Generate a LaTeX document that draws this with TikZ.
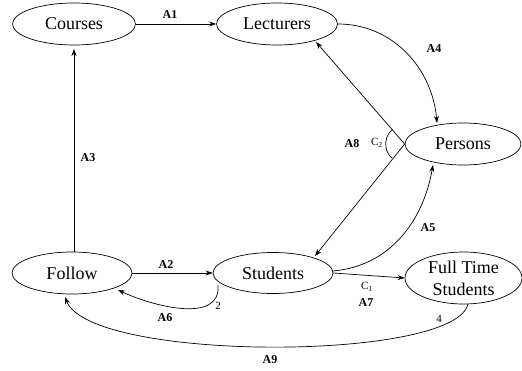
\documentclass[tikz,border=0pt]{standalone}
\usepackage{fontspec}
\setmainfont{Liberation Serif}
\usetikzlibrary{shapes.geometric,arrows.meta}
\begin{document}
\begin{tikzpicture}[x=1pt,y=1pt,
  ent/.style={draw,ellipse,line width=0.7pt,inner sep=0pt,font=\fontsize{18}{22}\selectfont,align=center},
  conn/.style={line width=0.7pt,-{Stealth[length=7pt,width=5pt]}},
  plain/.style={line width=0.7pt},
  lab/.style={font=\fontsize{12}{14}\selectfont\bfseries},
  card/.style={font=\fontsize{11}{13}\selectfont}]
\useasboundingbox (0,0) rectangle (522,370);
\node[ent,minimum width=123pt,minimum height=42pt] (courses) at (74,346) {Courses};
\node[ent,minimum width=121pt,minimum height=42pt] (lect) at (277,346) {Lecturers};
\node[ent,minimum width=116pt,minimum height=42pt] (pers) at (463,226) {Persons};
\node[ent,minimum width=120pt,minimum height=42pt] (follow) at (72,97) {Follow};
\node[ent,minimum width=120pt,minimum height=41pt] (stud) at (273,97) {Students};
\node[ent,minimum width=117pt,minimum height=52pt] (fts) at (463.5,92) {Full Time\\Students};
\coordinate (c3s) at (74,97);
\coordinate (c3e) at (74,321);
\coordinate (lectin) at (316,328);
\coordinate (studin) at (315,114);
\coordinate (a4e) at (437,247);
\coordinate (a5s) at (333,99);
\coordinate (a5e) at (433,205);
\coordinate (a6s) at (218,85);
\coordinate (a6e) at (118,80);
\coordinate (a9s) at (468,66);
\coordinate (a9e) at (65,73);
% A1
\draw[conn] (courses.east) -- (lect.west);
\node[lab] (lA1) at (170,355) {A1};
% A3
\draw[conn] (c3s |- follow.north) -- (c3e);
\node[lab] (lA3) at (88,212) {A3};
% A4
\draw[conn] (lect.east) to[out=0,in=95] (a4e);
\node[lab] (lA4) at (434,321) {A4};
% A8
\draw[conn] (pers.west) -- (lectin);
\draw[conn] (pers.west) -- (studin);
\draw[plain] ([shift={(131:19)}]pers.west) arc[start angle=131,end angle=229,radius=19];
\node[card] (lC2) at (377,227) {C\textsubscript{2}};
\node[lab] (lA8) at (352,226) {A8};
% A5
\draw[conn] (a5s) to[out=5,in=-100] (a5e);
\node[lab] (lA5) at (428,142) {A5};
% A2
\draw[conn] (follow.east) -- (stud.west);
\node[lab] (lA2) at (166,105) {A2};
% A6
\draw[conn] (a6s) to[out=-85,in=-25] (a6e);
\node[card] (l2) at (218,64) {2};
\node[lab] (lA6) at (165,52) {A6};
% A7
\draw[conn] (stud.east) -- (fts.west);
\node[card] (lC1) at (367,83) {C\textsubscript{1}};
\node[lab] (lA7) at (366,67) {A7};
% A9
\draw[conn] (a9s) .. controls (455,8) and (90,8) .. (a9e);
\node[card] (l4) at (439,51) {4};
\node[lab] (lA9) at (270,10) {A9};
\end{tikzpicture}
\end{document}
